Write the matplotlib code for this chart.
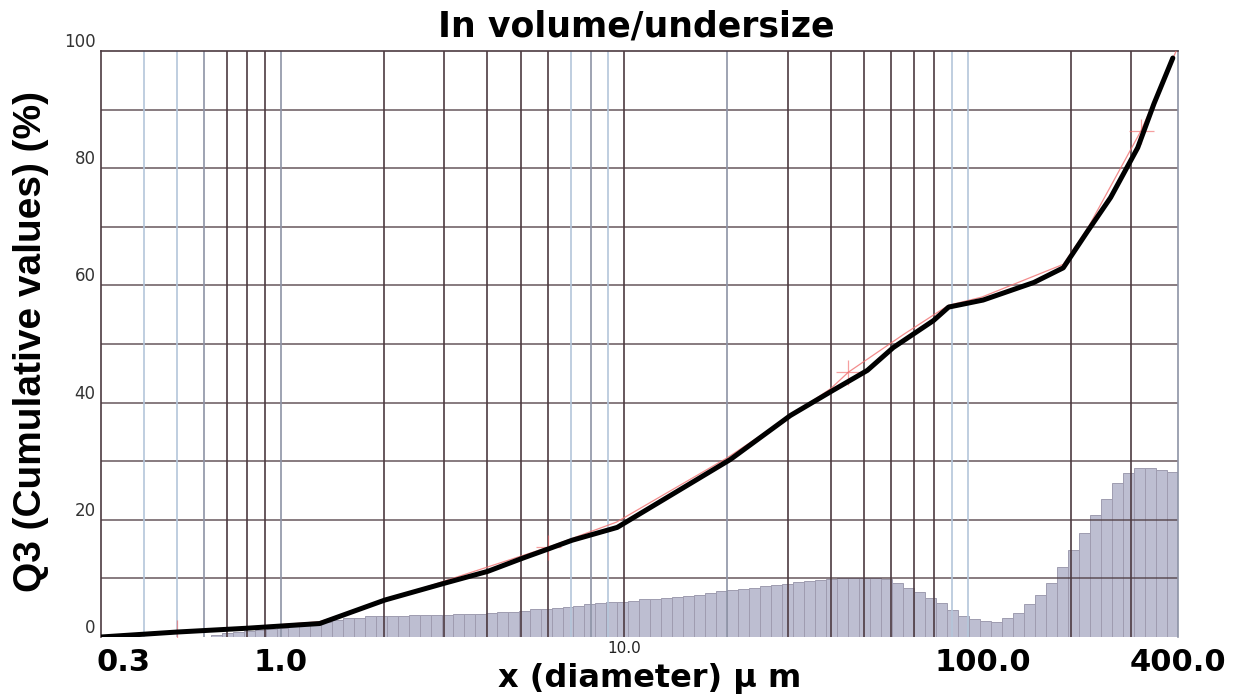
import numpy as np
import matplotlib
matplotlib.use("Agg")
import matplotlib.pyplot as plt
from matplotlib import transforms

# ---------------- data ----------------
title = "In volume/undersize"
x_label = "x (diameter) \u00b5 m"
y_label = "Q3 (Cumulative values) (%)"

# histogram (density per log-bin, % scale), 88 equal log bins ending at 410 um
hist_heights = [
    0.4, 0.6, 0.8, 1.0, 1.2, 1.4, 1.6, 1.8, 2.0, 2.3,
    2.6, 2.9, 3.2, 3.3, 3.5, 3.5, 3.6, 3.6, 3.7, 3.7,
    3.7, 3.8, 3.9, 4.0, 4.0, 4.1, 4.2, 4.3, 4.5, 4.7,
    4.8, 5.0, 5.1, 5.3, 5.6, 5.8, 5.9, 6.0, 6.2, 6.4,
    6.5, 6.7, 6.8, 7.0, 7.2, 7.5, 7.8, 8.0, 8.2, 8.4,
    8.7, 8.9, 9.1, 9.4, 9.6, 9.8, 9.9, 10.0, 10.0, 10.0,
    10.0, 9.9, 9.2, 8.3, 7.6, 6.6, 5.8, 4.6, 3.6, 3.0,
    2.7, 2.6, 3.2, 4.1, 5.6, 7.2, 9.2, 11.9, 14.9, 17.7,
    20.8, 23.6, 26.2, 28.0, 28.8, 28.8, 28.5, 28.2,
]

# cumulative curve (black)
cum_x = [0.3, 0.5, 0.8, 1.3, 2.01, 3.01, 4.01, 5.04, 6.0, 7.05, 9.55,
         20.4, 30.5, 40.6, 51.1, 60.8, 79.6, 88.1, 111, 156, 190,
         224, 261, 313, 349, 396]
cum_y = [0.0, 0.85, 1.5, 2.3, 6.3, 9.2, 11.2, 13.4, 15.0, 16.5, 18.7,
         30.3, 37.8, 42.1, 45.5, 49.4, 54.0, 56.3, 57.5, 60.5, 63.0,
         69.3, 75.0, 83.5, 91.0, 98.8]

# reference curve (faint red with + markers)
ref_x = [0.3, 0.5, 1.3, 6.0, 9.5, 20.0, 40.0, 45.0, 65.0, 88.0, 110.0,
         190.0, 225.0, 320.0, 405.0]
ref_y = [0.0, 0.8, 2.6, 15.3, 19.6, 30.6, 42.4, 45.2, 51.6, 56.6, 58.0,
         63.6, 70.0, 86.4, 100.0]
ref_marker_x = [0.5, 6.0, 45.0, 320.0]
ref_marker_y = [0.8, 15.3, 45.2, 86.4]

# axis tick labels
y_ticks = [0, 20, 40, 60, 80, 100]
x_tick_pos = [0.348, 1.0, 10.0, 110.6, 409.0]
x_tick_text = ["0.3", "1.0", "10.0", "100.0", "400.0"]
x_tick_big = [True, True, False, True, True]

# grid
dark = "#4d3b41"
mid = "#8e93a6"
light = "#b4c6da"
vgrid_pos = [0.4, 0.5, 0.6, 0.7, 0.8, 0.9, 1.0,
             2, 3, 4, 5, 6, 7, 8, 9, 10,
             20, 30, 40, 50, 60, 70, 80, 90, 100, 200, 300]
vgrid_col = [light, light, mid, dark, dark, dark, mid,
             dark, dark, dark, dark, dark, light, mid, light, dark,
             mid, dark, dark, dark, dark, dark, dark, light, light, dark, dark]

# ---------------- figure ----------------
fig = plt.figure(figsize=(12.48, 6.96), dpi=100)
ax = fig.add_axes([101 / 1248, 1 - 637 / 696, (1178 - 101) / 1248, (637 - 51) / 696])
ax.set_xscale("log")
x_right = 410.0
ax.set_xlim(0.3, x_right)
ax.set_ylim(0, 100)

n = len(hist_heights)
edges = 10 ** (np.log10(x_right) - 0.032 * np.arange(n, -1, -1))
ax.bar(edges[:-1], hist_heights, width=np.diff(edges), align="edge",
       color="#bdbed1", edgecolor="#9f9cb0", linewidth=0.7, zorder=1)

# grid lines
for yv in range(10, 100, 10):
    ax.axhline(yv, color=dark, lw=1.1, alpha=0.85, zorder=2)
for xv, c in zip(vgrid_pos, vgrid_col):
    ax.axvline(xv, color=c, lw=1.2, zorder=2)

# curves
ax.plot(ref_x, ref_y, color="#f07070", lw=0.9, alpha=0.8, zorder=3)
ax.plot(ref_marker_x, ref_marker_y, ls="none", marker="+", ms=18, mew=0.9,
        color="#f06060", alpha=0.6, zorder=3)
ax.plot(cum_x, cum_y, color="black", lw=3.6, zorder=4, solid_capstyle="round",
        solid_joinstyle="round")

# spines
for s in ["left", "top"]:
    ax.spines[s].set_color(dark)
    ax.spines[s].set_linewidth(1.2)
ax.spines["right"].set_color(mid)
ax.spines["right"].set_linewidth(1.2)
ax.spines["bottom"].set_visible(False)

# ticks
ax.set_xticks([])
ax.minorticks_off()
ax.set_yticks(y_ticks)
ax.set_yticklabels([str(v) for v in y_ticks])
ax.tick_params(axis="y", length=0, pad=4, labelsize=12, labelcolor="#333333")
for lbl in ax.get_yticklabels():
    lbl.set_verticalalignment("bottom")
    lbl.set_family("DejaVu Sans")

trans = transforms.blended_transform_factory(ax.transData, ax.transAxes)
for xp, t, big in zip(x_tick_pos, x_tick_text, x_tick_big):
    if big:
        ax.text(xp, -0.0435, t, transform=trans, ha="center", va="center",
                fontsize=22, fontweight="bold", family="DejaVu Sans", clip_on=False)
    else:
        ax.text(xp, -0.019, t, transform=trans, ha="center", va="center",
                fontsize=11, family="DejaVu Sans", color="#222222", clip_on=False)

fig.text(636 / 1248, 1 - 37 / 696, title, ha="center", va="baseline",
         fontsize=25, fontweight="bold", family="DejaVu Sans")
fig.text(650 / 1248, 1 - 678 / 696, x_label, ha="center", va="center",
         fontsize=23, fontweight="bold", family="DejaVu Sans")
fig.text(31 / 1248, 1 - 342 / 696, y_label, ha="center", va="center",
         rotation=90, fontsize=28, fontweight="bold", family="Liberation Sans")

fig.savefig("out.png", dpi=100)
